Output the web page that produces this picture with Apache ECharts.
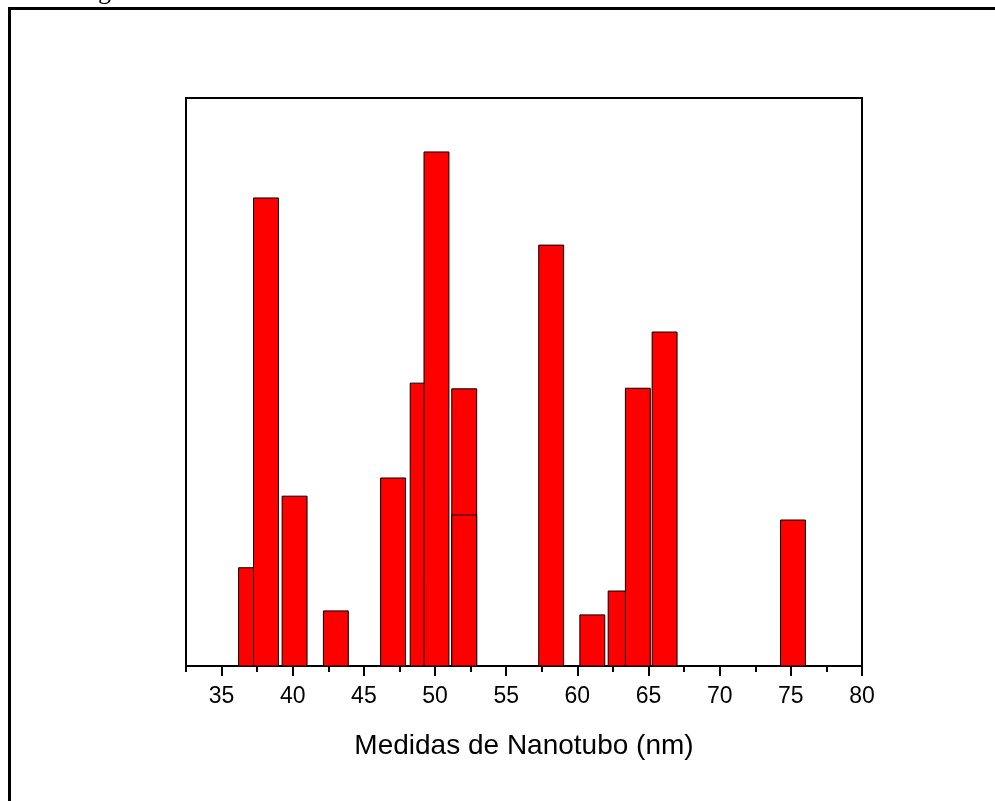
<!DOCTYPE html>
<html>
<head>
<meta charset="utf-8">
<script src="https://cdn.jsdelivr.net/npm/echarts@6/dist/echarts.min.js"></script>
<style>
  html, body { margin: 0; padding: 0; background: #fff; }
  #chart { width: 995px; height: 801px; }
</style>
</head>
<body>
<div id="chart"></div>
<script>
// bar centres (nm) and heights (relative, no y scale shown in the picture)
var centers = [37.07, 38.12, 40.13, 43.03, 47.05, 49.13, 50.1, 52.05, 52.05, 58.16, 61.05, 63.04, 64.25, 66.13, 75.15];
var heights = [17.3, 82.4, 29.9, 9.7, 33.1, 49.8, 90.5, 48.8, 26.6, 74.1, 9.0, 13.2, 48.9, 58.8, 25.7];
var majorTicks = [35, 40, 45, 50, 55, 60, 65, 70, 75, 80];
var minorTicks = [32.5, 37.5, 42.5, 47.5, 52.5, 57.5, 62.5, 67.5, 72.5, 77.5];
var xTitle = 'Medidas de Nanotubo (nm)';

var binWidth = 1.75;

var chart = echarts.init(document.getElementById('chart'));

var seriesData = [];
for (var i = 0; i < centers.length; i++) {
  seriesData.push([centers[i], heights[i]]);
}

var option = {
  animation: false,
  backgroundColor: '#fff',
  graphic: [
    {
      type: 'rect',
      shape: { x: 9.5, y: 8.5, width: 1200, height: 1000 },
      style: { fill: 'none', stroke: '#000', lineWidth: 3 },
      silent: true
    },
    {
      type: 'text',
      left: 98,
      top: -21,
      style: { text: 'g', font: '26px "Liberation Serif", serif', fill: '#000' }
    }
  ],
  grid: {
    left: 186,
    right: 133,
    top: 98,
    bottom: 135,
    show: true,
    borderColor: '#000',
    borderWidth: 2,
    backgroundColor: 'transparent'
  },
  xAxis: [
    {
      type: 'value',
      min: 32.5,
      max: 80,
      name: xTitle,
      nameLocation: 'middle',
      nameGap: 66,
      nameTextStyle: { fontFamily: 'Liberation Sans', fontSize: 28, color: '#000' },
      axisLine: { show: true, onZero: false, lineStyle: { color: '#000', width: 2 } },
      axisTick: { show: true, customValues: majorTicks, length: 10, lineStyle: { color: '#000', width: 2 } },
      axisLabel: { customValues: majorTicks, margin: 19, fontFamily: 'Liberation Sans', fontSize: 23, color: '#000' },
      splitLine: { show: false }
    },
    {
      type: 'value',
      position: 'bottom',
      min: 32.5,
      max: 80,
      axisLine: { show: false },
      axisTick: { show: true, customValues: minorTicks, length: 6, lineStyle: { color: '#000', width: 2 } },
      axisLabel: { show: false },
      splitLine: { show: false }
    }
  ],
  yAxis: {
    type: 'value',
    min: 0,
    max: 100,
    axisLine: { show: false },
    axisTick: { show: false },
    axisLabel: { show: false },
    splitLine: { show: false }
  },
  series: [
    {
      type: 'custom',
      xAxisIndex: 0,
      data: seriesData,
      renderItem: function (params, api) {
        var x = api.value(0);
        var y = api.value(1);
        var p0 = api.coord([x - binWidth / 2, y]);
        var p1 = api.coord([x + binWidth / 2, 0]);
        return {
          type: 'rect',
          shape: { x: p0[0], y: p0[1], width: p1[0] - p0[0], height: p1[1] - p0[1] },
          style: { fill: '#ff0000', stroke: '#000', lineWidth: 1 }
        };
      }
    }
  ]
};

chart.setOption(option);
</script>
</body>
</html>
